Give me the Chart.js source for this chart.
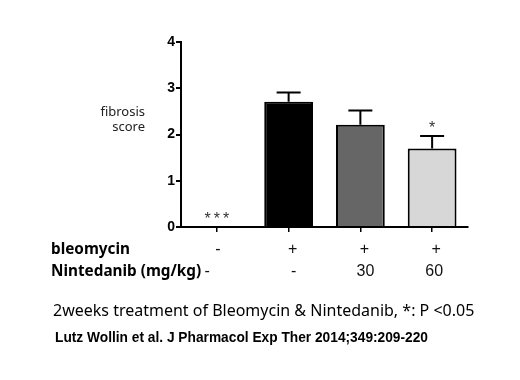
<!DOCTYPE html>
<html>
<head>
<meta charset="utf-8">
<script src="https://cdn.jsdelivr.net/npm/chart.js@4.4.1/dist/chart.umd.min.js"></script>
<style>
html,body{margin:0;padding:0;background:#fff;}
#wrap{width:520px;height:380px;position:relative;}
</style>
</head>
<body>
<div id="wrap"><canvas id="c" width="520" height="380"></canvas></div>
<script>
const categories = ['Control', 'Bleomycin', 'Bleomycin + Nintedanib 30', 'Bleomycin + Nintedanib 60'];
const scores = [0, 2.71, 2.21, 1.70];
const errorsUp = [0, 0.20, 0.31, 0.27];
const sigMarks = ['***', '', '', '*'];
const bleomycinRow = ['-', '+', '+', '+'];
const nintedanibRow = ['-', '-', '30', '60'];
const yTicks = [0, 1, 2, 3, 4];
const yLabel = ['fibrosis', 'score'];
const rowLabels = ['bleomycin', 'Nintedanib (mg/kg)'];
const caption = '2weeks treatment of Bleomycin & Nintedanib, *: P <0.05';
const citation = 'Lutz Wollin et al. J Pharmacol Exp Ther 2014;349:209-220';
const barColors = ['#000000', '#000000', '#666666', '#d7d7d7'];

const overlay = {
  id: 'overlay',
  afterDatasetsDraw(chart) {
    const ctx = chart.ctx;
    const x = chart.scales.x, y = chart.scales.y;
    ctx.save();
    // error bars
    ctx.strokeStyle = '#000';
    ctx.lineWidth = 2;
    scores.forEach((v, i) => {
      if (!errorsUp[i]) return;
      const cx = x.getPixelForValue(i);
      const y0 = y.getPixelForValue(v);
      const y1 = y.getPixelForValue(v + errorsUp[i]);
      ctx.beginPath();
      ctx.moveTo(cx, y0);
      ctx.lineTo(cx, y1);
      ctx.moveTo(cx - 12, y1);
      ctx.lineTo(cx + 12, y1);
      ctx.stroke();
    });
    // significance marks
    ctx.fillStyle = '#333';
    ctx.font = '16px "Liberation Sans", Arial, sans-serif';
    ctx.letterSpacing = '3px';
    ctx.textAlign = 'center';
    ctx.textBaseline = 'middle';
    sigMarks.forEach((m, i) => {
      if (!m) return;
      const cx = x.getPixelForValue(i);
      const yt = y.getPixelForValue(scores[i] + errorsUp[i]);
      ctx.fillText(m, cx + 1.5, yt - 7);
    });
    ctx.letterSpacing = '0px';
    // y label
    ctx.fillStyle = '#222';
    ctx.font = '13px "Noto Sans", sans-serif';
    ctx.textAlign = 'right';
    ctx.fillText(yLabel[0], 145, 112);
    ctx.fillText(yLabel[1], 145, 127);
    // table rows
    ctx.fillStyle = '#000';
    ctx.font = 'bold 15.3px "Noto Sans", sans-serif';
    ctx.textAlign = 'left';
    ctx.fillText(rowLabels[0], 51, 250);
    ctx.fillText(rowLabels[1], 51, 272);
    const labelEnd = 51 + ctx.measureText(rowLabels[1]).width;
    ctx.font = '16px "Liberation Sans", Arial, sans-serif';
    ctx.fillStyle = '#111';
    ctx.textAlign = 'center';
    bleomycinRow.forEach((t, i) => {
      const cx = x.getPixelForValue(i) + (i === 0 ? 1 : 4);
      ctx.fillText(t, cx, 250);
    });
    nintedanibRow.forEach((t, i) => {
      const cx = i === 0 ? labelEnd + 6 : x.getPixelForValue(i) + (i === 3 ? 2 : 5);
      ctx.fillText(t, cx, 272);
    });
    // caption & citation
    ctx.textAlign = 'left';
    ctx.fillStyle = '#000';
    ctx.font = '16px "Noto Sans", sans-serif';
    ctx.fillText(caption, 53, 311);
    ctx.font = 'bold 15px "Liberation Sans", Arial, sans-serif';
    const w = ctx.measureText(citation).width;
    ctx.translate(55, 338);
    ctx.scale(373 / w, 1);
    ctx.fillText(citation, 0, 0);
    ctx.restore();
  }
};

new Chart(document.getElementById('c'), {
  type: 'bar',
  data: {
    labels: categories,
    datasets: [{
      data: scores,
      backgroundColor: barColors,
      borderColor: '#000',
      borderWidth: 2,
      borderSkipped: 'bottom',
      categoryPercentage: 1,
      barPercentage: 0.68
    }]
  },
  options: {
    responsive: false,
    animation: false,
    devicePixelRatio: 1,
    layout: { padding: { top: 42, right: 52, left: 0, bottom: 0 } },
    plugins: { legend: { display: false }, tooltip: { enabled: false } },
    scales: {
      x: {
        grid: { display: true, offset: false, drawOnChartArea: false, drawTicks: true, tickLength: 5, color: '#000', lineWidth: 1.5 },
        border: { display: true, color: '#000', width: 2 },
        ticks: { display: false },
        afterFit(s) { s.height = 380 - 227; }
      },
      y: {
        min: 0, max: 4,
        afterBuildTicks(s) { s.ticks = yTicks.map(v => ({ value: v })); },
        grid: { display: true, drawOnChartArea: false, drawTicks: true, tickLength: 5, color: '#000', lineWidth: 2 },
        border: { display: true, color: '#000', width: 2 },
        ticks: { color: '#000', font: { family: '"Liberation Sans", Arial, sans-serif', size: 14, weight: 'bold' }, padding: 1 },
        afterFit(s) { s.width = 181; }
      }
    }
  },
  plugins: [overlay]
});
</script>
</body>
</html>
